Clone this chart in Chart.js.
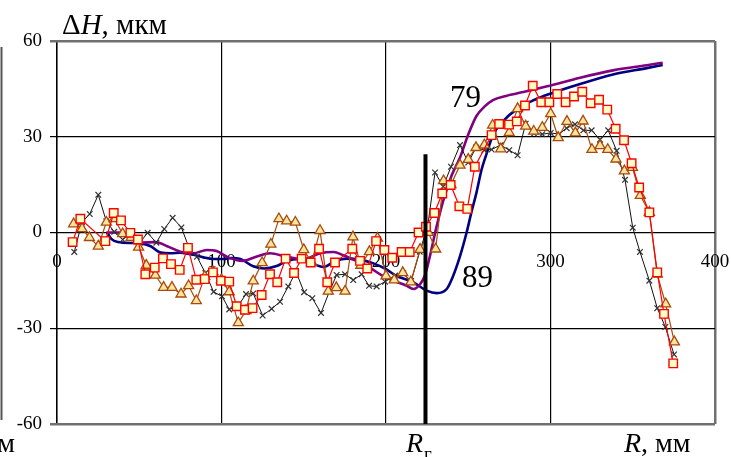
<!DOCTYPE html>
<html><head><meta charset="utf-8">
<script src="https://cdn.jsdelivr.net/npm/chart.js@4/dist/chart.umd.min.js"></script>
<style>html,body{margin:0;padding:0;background:#fff;overflow:hidden}</style>
</head><body>
<canvas id="c" width="731" height="457" style="width:731px;height:457px;display:block"></canvas>
<script>
// ---- data (R in mm, ΔH in µm) ----
const xTicks = [0, 100, 200, 300, 400];
const yTicks = [-60, -30, 0, 30, 60];

const crossR = [10.5,15.2,19.9,25.1,30,34.8,39.9,45,50.3,55.1,60.4,65.2,70.3,75.6,80.4,85.1,90.2,95.2,100.3,104.7,110.2,114.9,119.3,125,130.5,135.6,140.6,145.3,150.2,155.2,160.5,165.5,170,175.1,180.1,185.2,189.7,194.3,199.4,205.5,210.5,215.3,220.5,225.4,229.8,234.8,239.5,245,250,254.7,259.8,264.2,269.7,274.9,280,284.9,290,295,300.1,305.2,309.8,314.9,320,325,330.1,335.1,340.2,345.3,350,354.4,360.1,364.9,369.8,375.1];
const crossH = [-6.1,3.2,5.8,11.8,3.5,0.2,-2.2,-0.3,-3.2,-0.1,-3.2,1.1,4.6,1.6,-5,-7.6,-12.7,-18.6,-20,-24.1,-22.9,-19.3,-19.1,-26,-23.9,-21.7,-16.9,-12.3,-18.7,-20.6,-25.2,-18.6,-13.3,-13.1,-14.9,-13.1,-16.7,-16.9,-15.4,-13.5,-12.8,-15.2,-6,2.2,18.8,14.4,20.6,27.4,21.9,26.6,25.8,26,27.4,25.8,24.2,34.1,31,30.8,31.2,30.8,32.7,33.9,32,32,29.1,32,25.6,16.5,1.5,-6.1,-15.1,-23.7,-29.6,-38.2];

const squareR = [9.5,14.2,29.4,34.5,38.9,44.6,49.2,53.7,59.4,64.4,69.3,74.6,79.6,84.7,89.8,94.8,99.7,104.7,109.2,114.3,118.9,124.4,129.5,133.9,139,144.1,148.7,154.2,159.3,164.3,169,179.5,184.2,188.6,194,199,203.8,209.5,214.4,219.8,224.3,229.4,234.2,239.3,244.6,249.4,254,264.2,268.8,274.8,279.5,284.5,289.2,294.4,299.3,304.1,309.2,314.3,319.3,324.4,329.5,334.5,339.6,344.7,349.3,353.9,360.1,364.9,369,374.6];
const squareH = [-3,4.3,-2.7,6.1,3.8,-0.1,-2.2,-13.1,-11,-8.1,-9.9,-11.7,-4.8,-14.8,-14.6,-12.5,-15.1,-15.4,-23.1,-24.2,-23.7,-19.6,-13.1,-15.6,-8.2,-12.7,-8.2,-9.4,-5.1,-15.6,-9.4,-5.1,-8.9,-11.3,-2.7,-5.5,-7.9,-6.1,-6.1,0,1.8,6.1,12.2,14.9,8.2,7.4,20.6,30.5,34,33.8,34.8,39.8,46,40.8,40.8,43.4,40.8,42.6,44.1,40.5,41.6,38.5,32.5,28.9,21.7,14.1,6.3,-12.5,-25.5,-41];

const triR = [10.1,15.2,19.7,25.1,30,34.8,39.9,45,49.6,54.3,59.8,64.8,69.9,75.4,80,84.7,89.8,94.8,99.9,104.7,110.2,114.9,119.3,124.7,130,134.9,139.6,144.9,150,154.8,159.9,164.9,169.8,175.1,179.9,184.7,189.9,194.8,200,205,210.2,215.1,220.7,225.7,230.2,235,239.5,245,250,254.7,259.8,264.8,269.8,274.9,280,284.9,289.8,295,300.1,304.7,310,315.1,319.8,325.2,330.1,334.8,339.8,344.9,349.8,354.6,360.1,364.9,370,375.3];
const triH = [2.7,1.2,-1.6,-4.3,3.2,4.3,-0.4,-1.6,-4.6,-10.3,-13.4,-17.2,-17.2,-19.3,-16.7,-21.4,-13.8,-12.3,-14.8,-18.6,-28.3,-24.5,-15.2,-9.5,-3.7,4.3,3.6,3.2,-5.4,-9.4,0.6,-18.4,-17.3,-18.4,-1.4,-10.3,-6,-1.8,-13.6,-14.9,-12.6,-15.5,-5.3,0,-5.2,16.2,15,21.1,22.9,26.6,27.4,33.6,26.2,31.3,38.8,33.3,31.7,32.9,37.2,29.7,34.8,31.2,34.9,26,27.2,26,23,19.3,20.4,11.6,6.3,-13.1,-22.4,-34.3];

const curve79R = [30,40,50,60,67,75,83,91,97,104,113,121,129.5,139.6,149.7,160,168,174,182,190,198,204.4,212.6,216.6,220.7,223.7,226.7,230.8,235,240,245,250,255,260,265,273,283.5,298,318,338,358.5,368.2];
const curve79H = [0,0,-3.2,-3,-4.3,-6,-6.5,-5.5,-5.8,-7.8,-8.9,-7.6,-6.5,-7.6,-8.4,-6.5,-6.1,-7.1,-8.9,-11,-13.6,-15.1,-16.7,-17.7,-16.2,-13.4,-7.4,2,10.3,18,23.5,30.7,36.5,39.5,41.5,42.8,44,45.8,48.5,50.8,52.4,53.2];

const curve89R = [30.4,33,37,45,51,57,63,69,75,83,89,95,101,106,111,119.3,126,133.5,139.6,147.7,156,162,169,176,184,192,200,206,216.6,224.7,230.8,236.9,240.5,245,249,252,255,258,261,265,271,280,290,300,318,338,358.5,368.2];
const curve89H = [0,-2,-3,-3.3,-3.4,-4.3,-6.3,-6.5,-6.3,-7,-7.8,-8.3,-8.3,-8,-8.2,-10.6,-11.3,-10.5,-8.9,-8.3,-9.9,-10.8,-9,-8.2,-8.5,-9.6,-11.5,-13.5,-15.6,-18.2,-19,-17.7,-14,-7.4,0,6.5,12.5,19.5,24.5,30.5,34.8,38.8,41.5,43.5,46.5,49.5,51.5,52.5];

const rgR = [224, 224];
const rgH = [-60, 24.5];

const pts = (xs, ys) => xs.map((x, i) => ({x, y: ys[i]}));
const SERIF = '"Liberation Serif", "Times New Roman", serif';

const textPlugin = {
  id: 'texts',
  afterDraw(chart) {
    const ctx = chart.ctx;
    ctx.save();
    ctx.fillStyle = '#000';
    ctx.textBaseline = 'alphabetic';
    ctx.textAlign = 'left';
    // y-axis title
    let x = 62, y = 34;
    ctx.font = '29px ' + SERIF; ctx.fillText('Δ', x, y); x += ctx.measureText('Δ').width;
    ctx.font = 'italic 29px ' + SERIF; ctx.fillText('H', x, y); x += ctx.measureText('H').width;
    ctx.font = '29px ' + SERIF; ctx.fillText(', мкм', x, y);
    // curve labels
    ctx.font = '31px ' + SERIF;
    ctx.fillText('79', 450, 107);
    ctx.fillText('89', 462, 287);
    // R_г
    x = 406; y = 452;
    ctx.font = 'italic 28px ' + SERIF; ctx.fillText('R', x, y); x += ctx.measureText('R').width;
    ctx.font = '19px ' + SERIF; ctx.fillText('г', x + 1, y + 8);
    // R, мм
    x = 624;
    ctx.font = 'italic 28px ' + SERIF; ctx.fillText('R', x, y); x += ctx.measureText('R').width;
    ctx.font = '28px ' + SERIF; ctx.fillText(', мм', x, y);
    // cropped text at left edge
    ctx.textAlign = 'right';
    ctx.fillText('мм', 15, 452);
    // cropped frame line at left edge
    ctx.strokeStyle = '#555'; ctx.lineWidth = 2;
    ctx.beginPath(); ctx.moveTo(1.5, 47); ctx.lineTo(1.5, 420); ctx.stroke();
    ctx.restore();
  }
};

const frameColor = '#707070';
new Chart(document.getElementById('c'), {
  type: 'line',
  data: {
    datasets: [
      {data: pts(rgR, rgH), borderColor: '#000', borderWidth: 4, pointRadius: 0, borderCapStyle: 'butt'},
      {data: pts(squareR, squareH), borderColor: '#ff0000', borderWidth: 1.2, pointStyle: 'rect', pointRadius: 6,
       pointBackgroundColor: '#ffffc8', pointBorderColor: '#ff0000', pointBorderWidth: 1.4, tension: 0},
      {data: pts(triR, triH), borderColor: '#a84a0a', borderWidth: 1.2, pointStyle: 'triangle', pointRadius: 5.8,
       pointBackgroundColor: '#ffe4a0', pointBorderColor: '#a84a0a', pointBorderWidth: 1.3, tension: 0},
      {data: pts(crossR, crossH), borderColor: '#111', borderWidth: 1, pointStyle: 'crossRot', pointRadius: 4,
       pointBorderColor: '#333', pointBorderWidth: 1.2, tension: 0},
      {data: pts(curve79R, curve79H), borderColor: '#800080', borderWidth: 2.6, pointRadius: 0, cubicInterpolationMode: 'monotone'},
      {data: pts(curve89R, curve89H), borderColor: '#000080', borderWidth: 2.6, pointRadius: 0, cubicInterpolationMode: 'monotone'}
    ]
  },
  options: {
    responsive: false,
    animation: false,
    devicePixelRatio: 1,
    layout: {padding: {left: 0, right: 16, top: 41, bottom: 33}},
    plugins: {legend: {display: false}, tooltip: {enabled: false}},
    scales: {
      x: {
        type: 'linear', min: 0, max: 400,
        position: {y: 0},
        afterBuildTicks: s => { s.ticks = xTicks.map(v => ({value: v})); },
        afterFit: s => { s.paddingLeft = 0; s.paddingRight = 0; },
        ticks: {font: {family: SERIF, size: 19}, color: '#000', padding: 18, maxRotation: 0, autoSkip: false},
        grid: {
          drawTicks: false,
          color: c => c.tick && c.tick.value === 400 ? frameColor : '#000',
          lineWidth: c => c.tick && c.tick.value === 400 ? 2.5 : (c.tick && c.tick.value === 0 ? 1.6 : 1.2)
        },
        border: {display: false}
      },
      y: {
        type: 'linear', min: -60, max: 60,
        afterBuildTicks: s => { s.ticks = yTicks.map(v => ({value: v})); },
        afterFit: s => { s.width = 57; s.paddingTop = 0; s.paddingBottom = 0; },
        ticks: {font: {family: SERIF, size: 19}, color: '#000', padding: 8},
        grid: {
          drawTicks: true, tickLength: 7,
          color: c => c.tick && (c.tick.value === 60 || c.tick.value === -60) ? frameColor : '#000',
          tickColor: c => c.tick && (c.tick.value === 60 || c.tick.value === -60) ? frameColor : '#000',
          lineWidth: c => c.tick && (c.tick.value === 60 || c.tick.value === -60) ? 2.5 : 1.2
        },
        border: {display: false}
      }
    }
  },
  plugins: [textPlugin]
});
</script>
</body></html>
